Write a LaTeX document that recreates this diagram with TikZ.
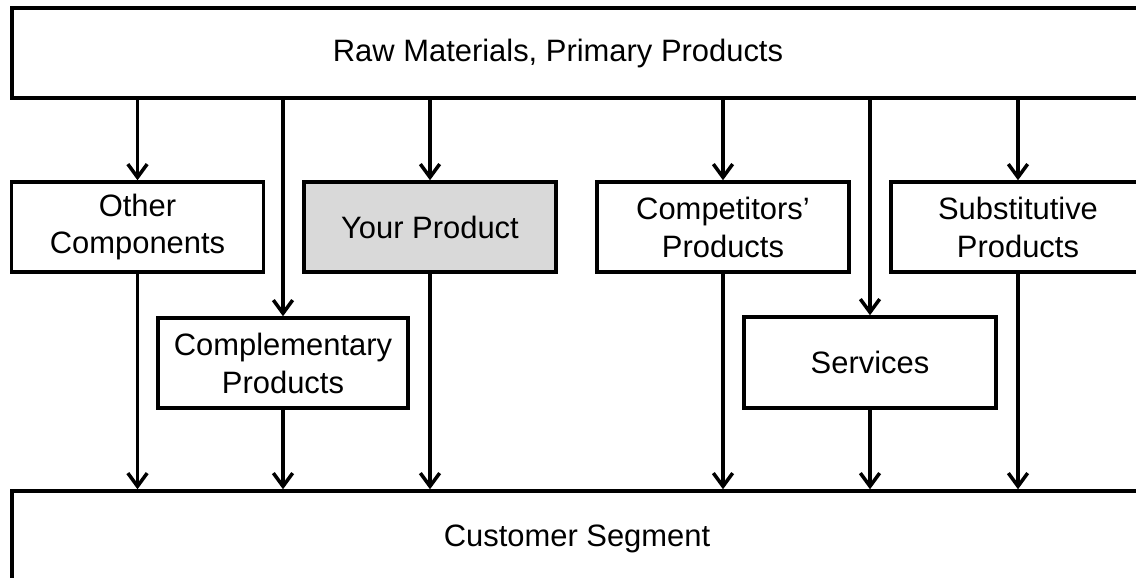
\documentclass[tikz,border=0pt]{standalone}
\usepackage{fontspec}
\setmainfont{Liberation Sans}
\usetikzlibrary{arrows.meta}

\begin{document}
\begin{tikzpicture}[x=0.02cm,y=-0.02cm,line width=2pt,
        txt/.style={font=\fontsize{17.6}{21.6}\selectfont,align=center},
        box/.style={draw,txt,minimum width=5.04cm,minimum height=1.8cm},
        flow/.style={-{Straight Barb[length=7.5pt,width=11pt]}}]
        \clip (0,0) rectangle (1136,578);

        % Outer frames, they run past the right edge
        \node (raw)  at (601,53)    [draw,minimum width=23.56cm,minimum height=1.8cm] {};
        \node (rawtext)  at (558,54)  [txt] {Raw Materials, Primary Products};
        \node (cust) at (601,545.5) [draw,minimum width=23.56cm,minimum height=2.18cm] {};
        \node (custtext) at (577,539) [txt] {Customer Segment};

        \node (other) at (137.5,227) [box] {Other\\Components};
        \node (your)  at (430,227)   [box,fill={rgb,255:red,217;green,217;blue,217}] {Your Product};
        \node (comp)  at (723,227)   [box] {Competitors'\\Products};
        \node (subst) at (1018,227)  [box,minimum width=5.08cm] {Substitutive\\Products};
        \node (compl) at (283,363)   [box,minimum width=5cm] {Complementary\\Products};
        \node (serv)  at (870,362.5) [box,minimum height=1.82cm] {Services};

        % Supply arrows from the top frame
        \foreach \x in {other,your,comp,subst,compl,serv}
            \draw[flow] (raw.south -| \x.north) -- (\x.north);

        % Arrows down to the customer
        \foreach \x in {other,your,comp,subst,compl,serv}
            \draw[flow] (\x.south) -- (\x.south |- cust.north);
\end{tikzpicture}
\end{document}
